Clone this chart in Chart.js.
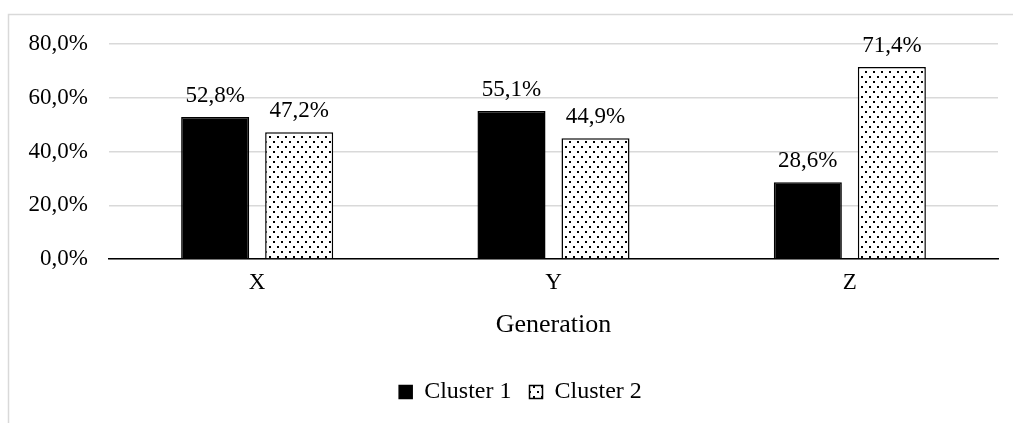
<!DOCTYPE html>
<html>
<head>
<meta charset="utf-8">
<style>
  html, body { margin: 0; padding: 0; background: #ffffff; }
  #wrap { position: relative; width: 1013px; height: 423px; }
</style>
<script src="https://cdn.jsdelivr.net/npm/chart.js@4/dist/chart.umd.min.js"></script>
</head>
<body>
<div id="wrap"><canvas id="chart" width="1013" height="423"></canvas></div>
<script>
const generations = ['X', 'Y', 'Z'];
const cluster1 = [52.8, 55.1, 28.6];
const cluster2 = [47.2, 44.9, 71.4];
const seriesNames = ['Cluster 1', 'Cluster 2'];
const yTicks = [0, 20, 40, 60, 80];
const axisTitle = 'Generation';

const FONT = '"Liberation Serif", "Times New Roman", serif';

function pct(v) {
  return v.toFixed(1).replace('.', ',') + '%';
}

// Dotted fill: small staggered black dots on white
function dotPattern() {
  const c = document.createElement('canvas');
  c.width = 8; c.height = 10;
  const g = c.getContext('2d');
  g.fillStyle = '#ffffff';
  g.fillRect(0, 0, 8, 10);
  g.fillStyle = '#000000';
  g.fillRect(1, 1, 2, 2);
  g.fillRect(5, 6, 2, 2);
  return g.createPattern(c, 'repeat');
}
const dots = dotPattern();

// Light frame around the chart
const framePlugin = {
  id: 'frame',
  beforeDraw(chart) {
    const ctx = chart.ctx;
    ctx.save();
    ctx.fillStyle = '#ffffff';
    ctx.fillRect(0, 0, chart.width, chart.height);
    ctx.strokeStyle = '#d9d9d9';
    ctx.lineWidth = 1.5;
    ctx.strokeRect(8.5, 14.5, 1010, 500);
    ctx.restore();
  }
};

// Nudge the legend block a little to the right
const legendShift = {
  id: 'legendShift',
  afterLayout(chart) {
    if (chart.legend) {
      chart.legend.left += 17;
      chart.legend.right += 17;
    }
  }
};

// Value labels above each bar
const valueLabels = {
  id: 'valueLabels',
  afterDatasetsDraw(chart) {
    const ctx = chart.ctx;
    ctx.save();
    ctx.font = '23px ' + FONT;
    ctx.fillStyle = '#000000';
    ctx.textAlign = 'center';
    ctx.textBaseline = 'alphabetic';
    chart.data.datasets.forEach((ds, di) => {
      chart.getDatasetMeta(di).data.forEach((bar, i) => {
        ctx.fillText(pct(ds.data[i]), bar.x, bar.y - 15);
      });
    });
    ctx.restore();
  }
};

new Chart(document.getElementById('chart'), {
  type: 'bar',
  data: {
    labels: generations,
    datasets: [
      {
        label: seriesNames[0],
        data: cluster1,
        backgroundColor: '#000000',
        borderColor: '#000000',
        borderWidth: 1.5
      },
      {
        label: seriesNames[1],
        data: cluster2,
        backgroundColor: dots,
        borderColor: '#000000',
        borderWidth: 1.5
      }
    ]
  },
  options: {
    responsive: false,
    animation: false,
    devicePixelRatio: 1,
    categoryPercentage: 0.567,
    barPercentage: 0.81,
    layout: { padding: { top: 44, left: 9, right: 15, bottom: 9 } },
    plugins: {
      tooltip: { enabled: false },
      legend: {
        position: 'bottom',
        labels: {
          color: '#000000',
          font: { family: FONT, size: 24 },
          boxWidth: 13,
          boxHeight: 13,
          padding: 18
        }
      }
    },
    scales: {
      x: {
        grid: { display: false, drawTicks: false },
        border: { color: '#000000', width: 1.5 },
        ticks: { color: '#000000', font: { family: FONT, size: 23 }, padding: 10 },
        title: {
          display: true,
          text: axisTitle,
          color: '#000000',
          font: { family: FONT, size: 26 },
          padding: { top: 0, bottom: 21 }
        },
        afterFit(scale) { scale.height = 103; }
      },
      y: {
        min: 0,
        max: 80,
        afterBuildTicks(scale) { scale.ticks = yTicks.map(v => ({ value: v })); },
        grid: { color: '#d9d9d9', lineWidth: 1.5, drawTicks: false },
        border: { display: false },
        ticks: {
          color: '#000000',
          font: { family: FONT, size: 23 },
          padding: 21,
          callback: (v) => pct(v)
        },
        afterFit(scale) { scale.width = 100; }
      }
    }
  },
  plugins: [framePlugin, legendShift, valueLabels]
});
</script>
</body>
</html>
